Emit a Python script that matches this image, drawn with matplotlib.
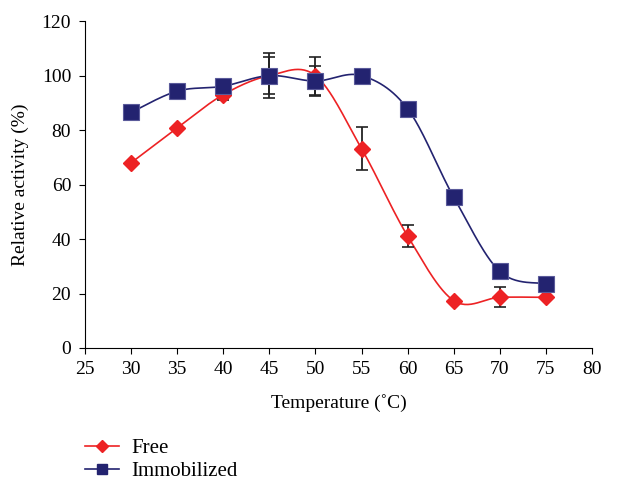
import numpy as np
import matplotlib
matplotlib.use("Agg")
import matplotlib.pyplot as plt
from matplotlib.lines import Line2D

temps = [30, 35, 40, 45, 50, 55, 60, 65, 70, 75]
free = [68.0, 80.8, 93.0, 100.0, 100.0, 73.2, 41.1, 17.4, 18.6, 18.6]
free_err = [0, 0, 2.0, 8.4, 7.0, 7.8, 4.0, 0, 3.7, 0]
immob = [86.5, 94.3, 96.1, 100.0, 98.0, 100.0, 87.8, 55.4, 28.1, 23.6]
immob_err = [0, 0, 2.5, 6.7, 5.5, 0, 0, 0, 0, 0]

red = "#ED2224"
navy = "#232370"

plt.rcParams["font.family"] = ["Liberation Serif", "DejaVu Serif"]
plt.rcParams["font.size"] = 12


def smooth(x, y, n=30):
    # Excel-style smoothed line (Catmull-Rom through the points)
    x = np.asarray(x, float)
    y = np.asarray(y, float)
    px = np.concatenate([[x[0]], x, [x[-1]]])
    py = np.concatenate([[y[0]], y, [y[-1]]])
    xs, ys = [], []
    for i in range(1, len(px) - 2):
        t = np.linspace(0, 1, n)
        for arr, out in ((px, xs), (py, ys)):
            p0, p1, p2, p3 = arr[i - 1], arr[i], arr[i + 1], arr[i + 2]
            out.extend(0.5 * ((2 * p1) + (-p0 + p2) * t
                              + (2 * p0 - 5 * p1 + 4 * p2 - p3) * t ** 2
                              + (-p0 + 3 * p1 - 3 * p2 + p3) * t ** 3))
    return xs, ys


fig = plt.figure(figsize=(6.22, 4.8), dpi=100)
ax = fig.add_axes([0.1367, 0.275, 0.815, 0.681])

sx, sy = smooth(temps, free)
ax.plot(sx, sy, color=red, lw=1.2, zorder=2)
sx, sy = smooth(temps, immob)
ax.plot(sx, sy, color=navy, lw=1.2, zorder=2)

ax.errorbar(temps, free, yerr=free_err, fmt="none", ecolor="#222222",
            elinewidth=1.3, capsize=4, capthick=1.2, zorder=3)
ax.errorbar(temps, immob, yerr=immob_err, fmt="none", ecolor="#222222",
            elinewidth=1.3, capsize=4, capthick=1.2, zorder=3)

ax.plot(temps, free, ls="none", marker="D", ms=8.5, color=red,
        markeredgecolor=red, zorder=4)
ax.plot(temps, immob, ls="none", marker="s", ms=11.5, color=navy,
        markeredgecolor="#5a5a9a", markeredgewidth=0.8, zorder=5)

ax.set_xlim(25, 80)
ax.set_ylim(0, 120)
ax.set_xticks(range(25, 81, 5))
ax.set_yticks(range(0, 121, 20))
for s in ["top", "right"]:
    ax.spines[s].set_visible(False)
ax.tick_params(direction="out", length=4, labelsize=14)
ax.tick_params(axis="y", pad=6)
ax.tick_params(axis="x", pad=5)
ax.set_xlabel("Temperature (˚C)", fontsize=14, labelpad=12)
ax.set_ylabel("Relative activity (%)", fontsize=14, labelpad=9)

handles = [
    Line2D([], [], color=red, lw=1.2, marker="D", ms=6),
    Line2D([], [], color=navy, lw=1.2, marker="s", ms=7),
]
fig.legend(handles, ["Free", "Immobilized"], loc="upper left",
           bbox_to_anchor=(0.107, 0.125), frameon=False, fontsize=15,
           handlelength=1.6, handletextpad=0.6, labelspacing=0.15)

fig.savefig("out.png", dpi=100)
